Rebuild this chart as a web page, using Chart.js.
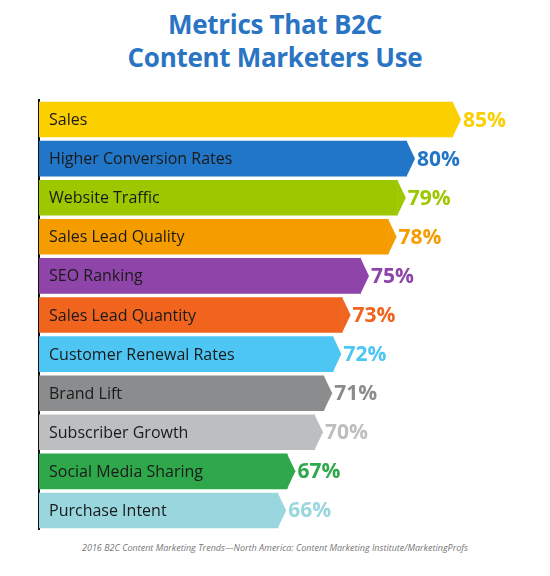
<!DOCTYPE html>
<html>
<head>
<meta charset="utf-8">
<script src="https://cdn.jsdelivr.net/npm/chart.js@4"></script>
<style>
  body { margin: 0; background: #fff; width: 550px; height: 576px; position: relative; font-family: "Open Sans", sans-serif; }
  #title { position: absolute; top: 8px; left: 0; width: 550px; text-align: center; color: #2A74C4; font-weight: bold; font-size: 26px; line-height: 33px; letter-spacing: -0.3px; }
  #wrap { position: absolute; top: 96px; left: 0; width: 550px; height: 434px; }
  #foot { position: absolute; top: 541px; left: 0; width: 550px; text-align: center; color: #777; font-style: italic; font-size: 9px; }
</style>
</head>
<body>
<div id="title">Metrics That B2C<br>Content Marketers Use</div>
<div id="wrap"><canvas id="chart"></canvas></div>
<div id="foot">2016 B2C Content Marketing Trends—North America: Content Marketing Institute/MarketingProfs</div>
<script>
const categories = ['Sales', 'Higher Conversion Rates', 'Website Traffic', 'Sales Lead Quality', 'SEO Ranking',
  'Sales Lead Quantity', 'Customer Renewal Rates', 'Brand Lift', 'Subscriber Growth', 'Social Media Sharing', 'Purchase Intent'];
const percentages = [85, 80, 79, 78, 75, 73, 72, 71, 70, 67, 66];
const barColors = ['#FCCF00', '#2176C7', '#9DC800', '#F59C00', '#8E44A8', '#F0641E', '#4DC6F4', '#8A8C8E', '#BCBEC0', '#2EA84A', '#9AD6DE'];

// draws the arrow tips, the labels inside the bars and the colored values
const labelPlugin = {
  id: 'barLabels',
  afterDatasetsDraw(chart) {
    const ctx = chart.ctx;
    const left = chart.chartArea.left;
    chart.getDatasetMeta(0).data.forEach((bar, i) => {
      const top = bar.y - bar.height / 2;
      const bottom = bar.y + bar.height / 2;
      ctx.save();
      ctx.fillStyle = barColors[i];
      ctx.beginPath();
      ctx.moveTo(bar.x - 0.5, top);
      ctx.lineTo(bar.x + 8, bar.y);
      ctx.lineTo(bar.x - 0.5, bottom);
      ctx.closePath();
      ctx.fill();
      ctx.textBaseline = 'middle';
      ctx.textAlign = 'left';
      ctx.fillStyle = '#1a1a1a';
      ctx.font = '16px "Open Sans", sans-serif';
      ctx.fillText(categories[i], left + 10, bar.y + 1);
      ctx.fillStyle = barColors[i];
      ctx.font = 'bold 21px "Open Sans", sans-serif';
      ctx.fillText(percentages[i] + '%', bar.x + 10, bar.y + 1);
      ctx.restore();
    });
  }
};

new Chart(document.getElementById('chart'), {
  type: 'bar',
  data: {
    labels: categories,
    datasets: [{
      data: percentages,
      backgroundColor: barColors,
      borderWidth: 0,
      categoryPercentage: 0.91,
      barPercentage: 1
    }]
  },
  options: {
    indexAxis: 'y',
    responsive: true,
    maintainAspectRatio: false,
    animation: false,
    layout: { padding: { left: 31, right: 5, top: 4, bottom: 0 } },
    scales: {
      x: { min: 40, max: 95, display: false },
      y: {
        grid: { display: false },
        ticks: { display: false },
        border: { display: true, color: '#111', width: 2 }
      }
    },
    plugins: { legend: { display: false }, tooltip: { enabled: false } }
  },
  plugins: [labelPlugin]
});
</script>
</body>
</html>
